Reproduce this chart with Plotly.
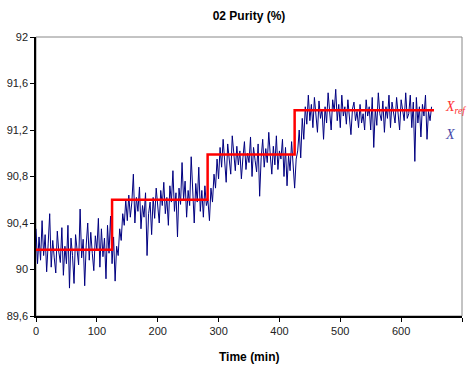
import plotly.graph_objects as go

# Time axis (min) for the measured purity, every 2.5 min
time_step = 2.5
x_vals = [
    # 0 .. 122.5
    90.35, 90.05, 90.28, 90.08, 90.42, 90.12, 90.30, 89.98, 90.22, 90.48,
    90.02, 90.25, 90.10, 89.97, 90.33, 90.15, 90.06, 90.36, 89.95, 90.20,
    90.05, 90.38, 89.84, 90.27, 90.12, 89.88, 90.30, 90.18, 90.04, 90.52,
    90.10, 90.26, 89.86, 90.21, 90.40, 90.08, 90.32, 90.14, 89.99, 90.29,
    90.17, 90.44, 90.02, 90.35, 90.11, 90.27, 89.92, 90.38, 90.14, 90.46,
    # 125 .. 147.5
    90.05, 90.28, 89.90, 90.20, 90.12, 90.35, 90.25, 90.48, 90.38, 90.60,
    # 150 .. 280
    90.42, 90.64, 90.45, 90.58, 90.82, 90.40, 90.62, 90.50, 90.71, 90.35,
    90.55, 90.45, 90.66, 90.12, 90.48, 90.58, 90.30, 90.62, 90.44, 90.70,
    90.52, 90.40, 90.68, 90.55, 90.75, 90.48, 90.62, 90.38, 90.72, 90.58,
    90.85, 90.50, 90.66, 90.28, 90.70, 90.56, 90.92, 90.60, 90.76, 90.45,
    90.68, 90.55, 90.97, 90.62, 90.40, 90.74, 90.58, 90.88, 90.50, 90.68,
    90.45, 90.72, 90.55,
    # 282.5 .. 297.5
    90.60, 90.42, 90.70, 90.58, 90.82, 90.70, 90.95,
    # 300 .. 422.5
    90.78, 91.05, 90.88, 91.12, 90.92, 90.75, 91.08, 90.95, 90.82, 91.15,
    90.98, 90.85, 91.06, 90.90, 91.02, 90.78, 90.96, 91.10, 90.86, 91.00,
    90.92, 91.14, 90.80, 91.05, 90.94, 90.84, 91.08, 90.63, 90.96, 91.12,
    90.88, 91.04, 90.92, 91.18, 90.98, 90.82, 91.06, 90.90, 91.15, 90.86,
    91.02, 90.95, 91.12, 90.80, 91.05, 90.72, 90.98, 90.85, 91.10, 90.90,
    # 425 .. 447.5
    90.70, 90.95, 91.02, 91.20, 90.96, 91.30, 91.12, 91.40, 91.25, 91.50,
    # 450 .. 650
    91.28, 91.42, 91.22, 91.48, 91.32, 91.18, 91.45, 91.30, 91.38, 91.12,
    91.40, 91.26, 91.52, 91.34, 91.20, 91.46, 91.36, 91.55, 91.28, 91.42,
    91.22, 91.50, 91.32, 91.40, 91.25, 91.46, 91.30, 91.16, 91.38, 91.44,
    91.28, 91.36, 91.22, 91.42, 91.26, 91.34, 91.20, 91.46, 91.32, 91.40,
    91.20, 91.48, 91.05, 91.38, 91.24, 91.52, 91.34, 91.28, 91.45, 91.18,
    91.40, 91.30, 91.50, 91.22, 91.44, 91.36, 91.26, 91.48, 91.32, 91.20,
    91.46, 91.38, 91.28, 91.52, 91.30, 91.34, 91.50, 91.22, 91.44, 90.93,
    91.48, 91.26, 91.40, 91.14, 91.42, 91.32, 91.50, 91.12, 91.36, 91.28,
    91.40,
]
x_time = [i * time_step for i in range(len(x_vals))]

# Reference set-point (step)
ref_time = [0, 125, 282, 425, 654]
ref_vals = [90.17, 90.60, 90.99, 91.37, 91.37]

y_ticks = [89.6, 90.0, 90.4, 90.8, 91.2, 91.6, 92.0]
y_tick_labels = ["89,6", "90", "90,4", "90,8", "91,2", "91,6", "92"]
x_ticks = [0, 100, 200, 300, 400, 500, 600, 700]

fig = go.Figure()
fig.add_trace(go.Scatter(x=x_time, y=x_vals, mode="lines",
                         line=dict(color="#000080", width=1), name="X"))
fig.add_trace(go.Scatter(x=ref_time, y=ref_vals, mode="lines", line_shape="hv",
                         line=dict(color="#FF0000", width=2.5), name="Xref"))

fig.update_layout(
    width=469, height=367,
    margin=dict(l=36, r=7, t=37, b=51),
    paper_bgcolor="white", plot_bgcolor="white",
    showlegend=False,
    font=dict(family="Liberation Sans, Arial", size=11, color="#000"),
    title=dict(text="<b>02 Purity (%)</b>", x=0.5, xref="paper", xanchor="center",
               y=1 - 16 / 367, yanchor="middle", font=dict(size=12)),
    xaxis=dict(range=[0, 700], tickvals=x_ticks, showgrid=False, zeroline=False,
               showline=True, linecolor="#000", linewidth=1.5,
               ticks="outside", ticklen=4, tickcolor="#000",
               tickfont=dict(size=11, color="#222")),
    yaxis=dict(range=[89.6, 92], tickvals=y_ticks, ticktext=y_tick_labels,
               showgrid=False, zeroline=False,
               showline=True, linecolor="#000", linewidth=1.5,
               ticks="outside", ticklen=4, tickcolor="#000",
               tickfont=dict(size=11, color="#222")),
    shapes=[dict(type="rect", xref="paper", yref="paper", x0=0, y0=0, x1=1, y1=1,
                 line=dict(color="#888", width=1), layer="below")],
    annotations=[
        dict(x=0.5, y=-0.147, xref="paper", yref="paper", xanchor="center",
             yanchor="middle", text="<b>Time (min)</b>", showarrow=False,
             font=dict(size=12, color="#000")),
        dict(x=668, y=91.39, xref="x", yref="y", xanchor="left", yanchor="middle",
             text="<i>X<sub>ref</sub></i>", showarrow=False,
             font=dict(family="Liberation Serif", size=14, color="#FF3030")),
        dict(x=668, y=91.16, xref="x", yref="y", xanchor="left", yanchor="middle",
             text="<i>X</i>", showarrow=False,
             font=dict(family="Liberation Serif", size=14, color="#4848A8")),
    ],
)

fig.write_html("out.html")
